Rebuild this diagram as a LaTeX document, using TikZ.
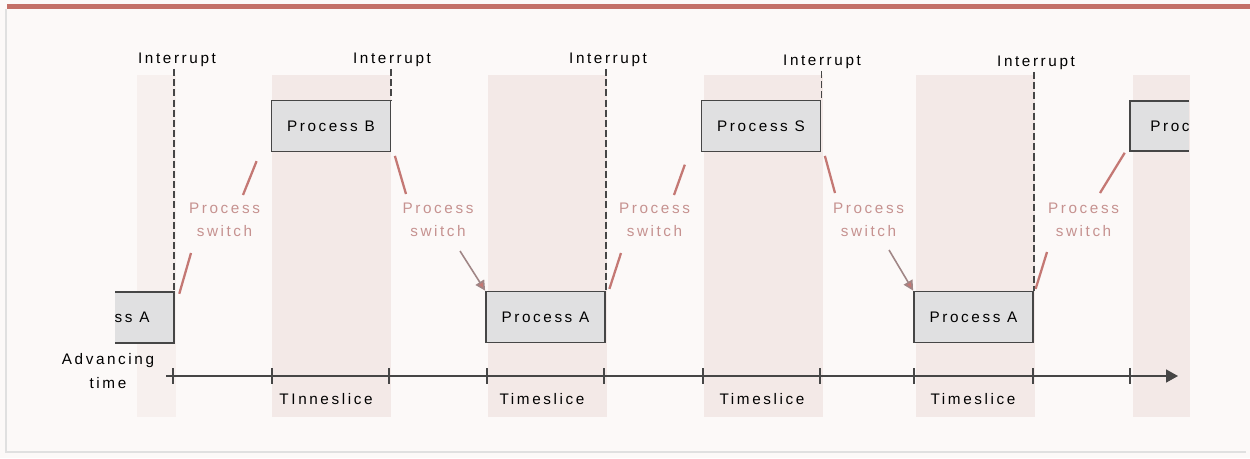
\documentclass[tikz,border=0pt]{standalone}
\usepackage{fontspec}
\setmainfont{Liberation Sans}[LetterSpace=17]
\usetikzlibrary{arrows.meta}

\definecolor{pagebg}{RGB}{252,249,248}
\definecolor{topbar}{RGB}{196,112,104}
\definecolor{slicecol}{RGB}{243,233,231}
\definecolor{boxfill}{RGB}{224,224,225}
\definecolor{boxline}{RGB}{70,70,70}
\definecolor{swcol}{RGB}{198,146,144}
\definecolor{swline}{RGB}{196,120,116}
\definecolor{swshaft}{RGB}{160,134,134}

\begin{document}
\begin{tikzpicture}[x=0.02cm, y=-0.02cm,
    every node/.style={font=\fontsize{8.7}{13.4}\selectfont, inner sep=1pt},
    procbox/.style={draw=boxline, fill=boxfill, line width=1pt,
        minimum width=2.38cm, minimum height=1.02cm, inner sep=0pt},
    intline/.style={boxline, line width=1pt, dash pattern=on 4pt off 1.8pt},
    swseg/.style={swline, line width=1.3pt},
    swlabel/.style={text=swcol, align=center}]

    % === Page and frame ===
    \useasboundingbox (0,0) rectangle (1250,458);
    \fill[pagebg] (0,0) rectangle (1250,458);
    \fill[topbar] (7,4) rectangle (1250,9);
    \draw[black!12, line width=0.6pt] (6,9) -- (6,452) -- (1246,452);

    % === Timeslice columns ===
    \fill[slicecol!70] (137,75) rectangle (176,417);
    \fill[slicecol] (272,75) rectangle (391,417);
    \fill[slicecol] (488,75) rectangle (607,417);
    \fill[slicecol] (704,75) rectangle (823,417);
    \fill[slicecol] (916,75) rectangle (1035,417);
    \fill[slicecol] (1133,75) rectangle (1190,417);

    % === Process boxes ===
    % partial box at the left edge
    \fill[boxfill] (115,292) rectangle (174,343);
    \draw[boxline, line width=1pt] (115,292) -- (174,292) -- (174,343) -- (115,343);
    \node (pA0) at (132,317) {ss A};
    \coordinate (pA0ne) at (174,292);

    \node[procbox] (pB)  at (331,126)   {Process B};
    \node[procbox] (pA1) at (545.5,317) {Process A};
    \node[procbox] (pS)  at (761,126)   {Process S};
    \node[procbox] (pA2) at (973.5,317) {Process A};

    % partial box at the right edge
    \fill[boxfill] (1130,101) rectangle (1189,151);
    \draw[boxline, line width=1pt] (1189,101) -- (1130,101) -- (1130,151) -- (1189,151);
    \node (pX) at (1170,126) {Proc};
    \coordinate (pXsw) at (1130,151);

    % === Interrupts ===
    \node (int1) at (177,60) {Interrupt};
    \node (int2) at (392,60) {Interrupt};
    \node (int3) at (608,60) {Interrupt};
    \node (int4) at (822,62) {Interrupt};
    \node (int5) at (1036,63) {Interrupt};

    \draw[intline] (pA0ne |- int1.south) -- (pA0ne);
    \draw[intline] (pB.north east |- int2.south) -- (pB.north east);
    \draw[intline] (pA1.north east |- int3.south) -- (pA1.north east);
    \draw[intline] (pS.north east |- int4.south) -- (pS.north east);
    \draw[intline] (pA2.north east |- int5.south) -- (pA2.north east);

    % === Process switches ===
    \node[swlabel] (sw1) at (224.5,220) {Process\\switch};
    \node[swlabel] (sw2) at (438,220)   {Process\\switch};
    \node[swlabel] (sw3) at (654.5,220) {Process\\switch};
    \node[swlabel] (sw4) at (868.5,220) {Process\\switch};
    \node[swlabel] (sw5) at (1083.5,220) {Process\\switch};

    \coordinate (s1a) at (191,253);  \coordinate (s1b) at (243,195);
    \coordinate (s2a) at (406,194);  \coordinate (s2b) at (460,251);
    \coordinate (s3a) at (621,253);  \coordinate (s3b) at (674,195);
    \coordinate (s4a) at (835,193);  \coordinate (s4b) at (889,250);
    \coordinate (s5a) at (1047,252); \coordinate (s5b) at (1100,193);

    \draw[swseg] ([xshift=3pt,yshift=-1pt]pA0ne) -- (s1a);
    \draw[swseg] (s1b) -- ([xshift=-8pt,yshift=-5pt]pB.south west);
    \draw[swseg] ([xshift=2pt,yshift=-2pt]pB.south east) -- (s2a);
    \draw[swshaft, line width=0.9pt, -{Triangle[length=0.2cm, width=0.2cm, fill=swline]}]
    (s2b) -- (pA1.north west);
    \draw[swseg] ([xshift=2pt,yshift=1pt]pA1.north east) -- (s3a);
    \draw[swseg] (s3b) -- ([xshift=-9pt,yshift=-7pt]pS.south west);
    \draw[swseg] ([xshift=2pt,yshift=-2pt]pS.south east) -- (s4a);
    \draw[swshaft, line width=0.9pt, -{Triangle[length=0.2cm, width=0.2cm, fill=swline]}]
    (s4b) -- (pA2.north west);
    \draw[swseg] ([xshift=1pt,yshift=1pt]pA2.north east) -- (s5a);
    \draw[swseg] (s5b) -- ([xshift=-3pt,yshift=-1pt]pXsw);

    % === Time axis ===
    \node[align=center] (adv) at (108,371) {Advancing\\time};
    \coordinate (t0) at (166,376);
    \coordinate (t1) at (1178,376);
    \draw[boxline, line width=0.9pt, -{Triangle[length=0.24cm, width=0.26cm]}] (t0) -- (t1);
    \foreach \tx in {173,272,389,487,604,703,820,914,1033,1130}
    \draw[boxline, line width=1pt] (\tx,368) -- (\tx,384);

    \node (ts1) at (326,399) {TInneslice};
    \node (ts2) at (542,399) {Timeslice};
    \node (ts3) at (762,399) {Timeslice};
    \node (ts4) at (973,399) {Timeslice};

\end{tikzpicture}
\end{document}
